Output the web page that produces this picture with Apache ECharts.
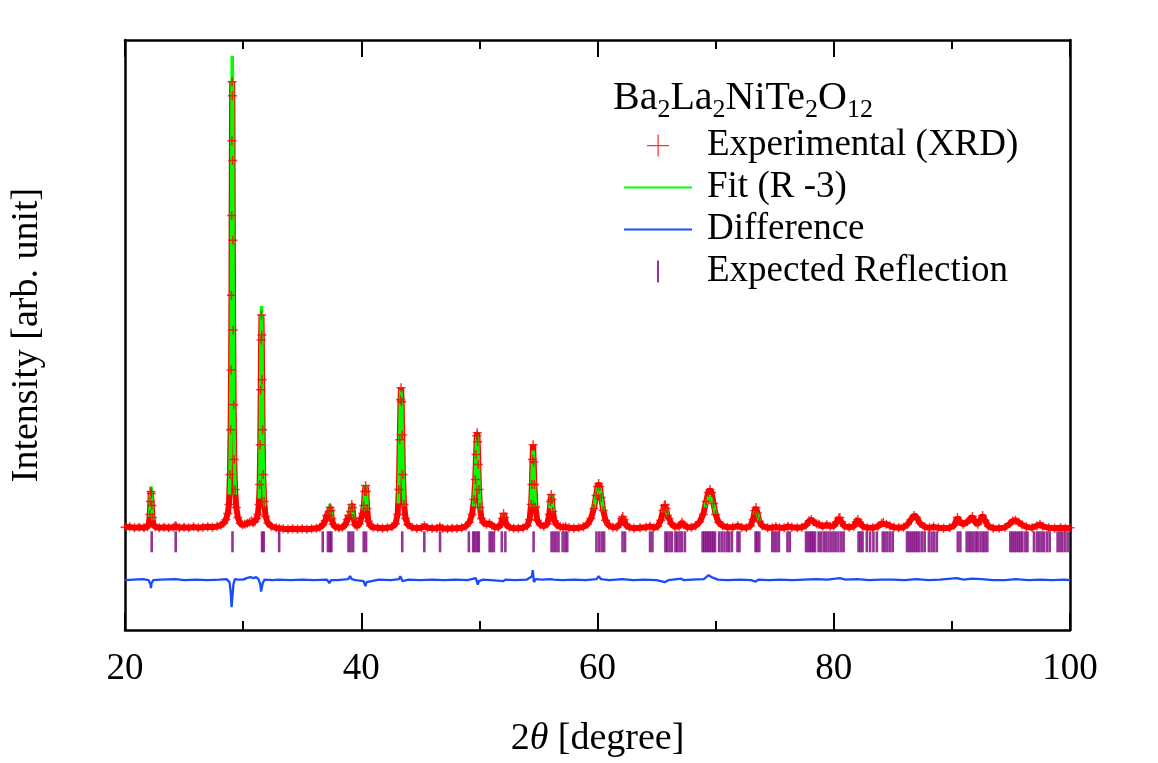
<!DOCTYPE html>
<html>
<head>
<meta charset="utf-8">
<script src="https://cdn.jsdelivr.net/npm/echarts@6/dist/echarts.min.js"></script>
<style>
  html, body { margin: 0; padding: 0; background: #fff; }
  #chart { width: 1158px; height: 763px; }
</style>
</head>
<body>
<div id="chart"></div>
<script>
// XRD Rietveld plot — Ba2La2NiTe2O12
// intensity is in arbitrary units (background = 0)

const xRange = [20, 100];

// observed pattern [2theta, intensity]
const observed = [
  [20.0,40],[20.4,50],[20.8,30],[21.2,40],[21.6,30],[21.9,50],[22.02,100],[22.1,300],[22.15,560],[22.19,760],
  [22.23,720],[22.27,480],[22.32,240],[22.4,100],[22.55,50],[22.9,30],[23.3,40],[23.7,30],[24.1,40],[24.25,70],
  [24.35,60],[24.6,30],[25.0,40],[25.4,30],[25.8,50],[26.2,30],[26.6,40],[27.0,50],[27.4,40],[27.8,60],
  [28.1,80],[28.35,120],[28.55,200],[28.7,320],[28.8,500],[28.88,1100],[28.94,2000],[28.98,3200],[29.01,4700],[29.03,6300],
  [29.05,7800],[29.07,8980],[29.09,8700],[29.11,7400],[29.13,5800],[29.16,4000],[29.2,2500],[29.25,1400],[29.32,800],[29.42,440],
  [29.55,240],[29.75,120],[29.95,90],[30.15,100],[30.35,120],[30.55,140],[30.7,170],[30.85,130],[31.0,150],[31.15,220],
  [31.25,300],[31.33,500],[31.4,900],[31.45,1700],[31.49,2800],[31.52,3800],[31.55,4300],[31.58,3900],[31.61,3000],[31.65,2000],
  [31.7,1100],[31.78,560],[31.9,260],[32.1,120],[32.4,60],[32.8,30],[33.05,20],[33.4,10],[33.8,0],[34.2,10],
  [34.6,0],[35.0,10],[35.4,0],[35.8,10],[36.2,20],[36.5,40],[36.75,90],[36.95,170],[37.08,280],[37.18,260],
  [37.28,360],[37.36,440],[37.43,380],[37.5,220],[37.62,100],[37.8,50],[38.1,30],[38.4,40],[38.65,90],[38.82,200],
  [38.92,280],[39.0,230],[39.1,360],[39.2,500],[39.26,440],[39.35,220],[39.48,90],[39.65,60],[39.85,110],[40.0,230],
  [40.12,320],[40.22,480],[40.3,760],[40.37,880],[40.43,760],[40.5,420],[40.6,160],[40.78,70],[41.0,40],[41.4,30],
  [41.8,20],[42.2,30],[42.6,50],[42.9,110],[43.08,300],[43.18,800],[43.26,1800],[43.32,2600],[43.37,2840],[43.42,2560],
  [43.47,1900],[43.53,1100],[43.62,500],[43.75,220],[43.95,90],[44.3,40],[44.7,20],[45.1,30],[45.34,70],[45.6,30],
  [46.0,20],[46.4,20],[46.65,50],[46.9,20],[47.3,10],[47.7,20],[48.1,20],[48.5,30],[48.85,60],[49.15,140],
  [49.38,300],[49.55,600],[49.65,1000],[49.72,1500],[49.78,1880],[49.82,1940],[49.86,1760],[49.91,1300],[49.97,800],[50.05,440],
  [50.18,220],[50.35,130],[50.6,100],[50.85,120],[51.05,80],[51.3,40],[51.6,40],[51.82,100],[51.95,220],[52.05,320],
  [52.14,240],[52.28,90],[52.55,40],[52.9,20],[53.3,20],[53.7,30],[54.05,70],[54.25,200],[54.38,500],[54.45,900],
  [54.5,1400],[54.55,1700],[54.6,1350],[54.66,900],[54.75,450],[54.9,180],[55.15,90],[55.45,60],[55.75,110],[55.92,300],
  [56.02,560],[56.08,700],[56.14,600],[56.22,360],[56.35,170],[56.55,90],[56.85,50],[57.1,40],[57.3,50],[57.6,30],
  [58.0,20],[58.4,30],[58.8,50],[59.15,100],[59.45,220],[59.7,420],[59.88,680],[60.0,860],[60.1,920],[60.2,860],
  [60.32,640],[60.48,380],[60.68,180],[60.95,80],[61.3,40],[61.65,40],[61.9,110],[62.05,220],[62.14,260],[62.25,190],
  [62.42,80],[62.7,40],[63.1,20],[63.6,30],[64.1,40],[64.45,60],[64.75,30],[65.1,60],[65.35,180],[65.55,380],
  [65.66,480],[65.73,500],[65.8,420],[65.92,280],[66.05,220],[66.25,110],[66.55,50],[66.9,60],[67.05,100],[67.16,140],
  [67.3,90],[67.6,40],[67.95,40],[68.3,70],[68.65,150],[68.95,300],[69.2,560],[69.38,740],[69.52,800],[69.66,740],
  [69.82,520],[70.0,300],[70.25,140],[70.6,70],[71.0,40],[71.45,40],[71.87,70],[72.2,40],[72.6,30],[72.95,70],
  [73.17,200],[73.32,380],[73.42,440],[73.53,330],[73.7,160],[73.95,70],[74.4,30],[74.8,30],[75.1,50],[75.4,30],
  [75.8,30],[76.13,60],[76.45,40],[76.9,30],[77.3,40],[77.65,80],[77.92,170],[78.1,200],[78.28,150],[78.55,110],
  [78.75,100],[79.05,60],[79.4,90],[79.7,60],[80.0,70],[80.25,150],[80.42,230],[80.52,240],[80.66,150],[80.9,60],
  [81.3,40],[81.7,60],[81.9,150],[82.04,200],[82.18,140],[82.45,60],[82.85,30],[83.3,30],[83.75,60],[84.05,120],
  [84.2,140],[84.45,100],[84.75,70],[85.1,40],[85.5,30],[85.9,40],[86.25,100],[86.55,200],[86.8,280],[87.02,240],
  [87.3,120],[87.7,50],[88.1,30],[88.45,50],[88.85,30],[89.3,20],[89.8,30],[90.2,80],[90.47,240],[90.65,160],
  [90.95,100],[91.3,150],[91.55,200],[91.74,260],[91.95,150],[92.2,100],[92.42,200],[92.6,280],[92.8,180],[93.1,60],
  [93.5,20],[94.0,20],[94.5,40],[94.9,110],[95.15,170],[95.38,180],[95.65,140],[95.95,90],[96.3,50],[96.8,30],
  [97.2,70],[97.46,100],[97.7,60],[98.2,30],[98.7,20],[99.2,30],[99.6,20],[100.0,30]
];

// calculated profile, upper parts of the peaks (lower parts hide under the data)
const fitSegments = [
  [[22.08,240],[22.13,460],[22.17,720],[22.21,860],[22.25,680],[22.3,360],[22.36,180]],
  [[28.84,700],[28.9,1300],[28.95,2300],[28.99,3600],[29.02,5400],[29.04,7200],[29.06,8800],[29.08,9500],
   [29.1,8900],[29.12,7400],[29.14,5700],[29.17,3900],[29.21,2400],[29.27,1300],[29.34,700]],
  [[31.36,620],[31.42,1200],[31.46,2000],[31.5,3300],[31.53,4300],[31.56,4480],[31.59,3900],[31.63,2700],
   [31.68,1600],[31.74,880],[31.82,460]],
  [[37.1,290],[37.18,270],[37.28,380],[37.35,500],[37.43,400],[37.52,200]],
  [[38.85,230],[38.93,280],[39.0,240],[39.1,380],[39.19,520],[39.26,440],[39.36,200]],
  [[40.15,380],[40.23,500],[40.31,780],[40.38,880],[40.44,740],[40.52,380]],
  [[43.14,520],[43.22,1300],[43.29,2300],[43.34,2800],[43.38,2840],[43.43,2500],[43.48,1800],[43.55,1000],[43.63,460]],
  [[49.5,460],[49.6,800],[49.68,1250],[49.75,1720],[49.81,1900],[49.86,1780],[49.92,1280],[49.99,720],[50.08,380]],
  [[51.95,220],[52.05,320],[52.14,240]],
  [[54.36,440],[54.44,860],[54.5,1350],[54.55,1580],[54.6,1380],[54.67,860],[54.76,440]],
  [[55.96,420],[56.03,600],[56.09,700],[56.15,600],[56.24,340]],
  [[59.68,400],[59.86,660],[60.0,840],[60.1,880],[60.2,840],[60.34,620],[60.5,360]],
  [[62.02,200],[62.14,250],[62.26,180]],
  [[65.5,340],[65.62,450],[65.72,480],[65.82,400],[65.95,260]],
  [[69.1,440],[69.3,620],[69.48,680],[69.64,660],[69.82,500],[70.0,300]],
  [[73.25,300],[73.35,380],[73.43,420],[73.55,310],[73.7,160]]
];

// observed - calculated, drawn with its offset
const difference = [
  [20,-1020],[21.5,-1000],[22.0,-1020],[22.15,-1100],[22.2,-1180],[22.25,-1080],[22.4,-1020],[23,-1010],[24.3,-1000],[25,-1020],
  [26,-1010],[27,-1020],[28,-1010],[28.6,-1000],[28.85,-1060],[28.95,-1260],[29.02,-1560],[29.06,-1540],[29.1,-1340],[29.18,-1100],
  [29.3,-1000],[29.6,-1010],[30.0,-1010],[30.3,-980],[30.6,-960],[30.75,-950],[30.9,-980],[31.1,-960],[31.3,-1000],[31.45,-1100],
  [31.52,-1250],[31.58,-1230],[31.66,-1080],[31.8,-1010],[32.5,-1020],[33,-1010],[34,-1020],[35,-1010],[36,-1020],[37.1,-1010],
  [37.3,-1080],[37.45,-1020],[38,-1020],[38.9,-1000],[39.05,-940],[39.2,-1000],[39.5,-1020],[40.2,-1040],[40.35,-1140],[40.45,-1060],
  [40.6,-1020],[41.5,-1010],[42.5,-1020],[43.2,-1000],[43.3,-940],[43.4,-960],[43.5,-1040],[43.6,-1000],[44,-1010],[45,-1020],
  [46,-1010],[47,-1020],[48,-1010],[49,-1020],[49.7,-980],[49.8,-940],[49.87,-1110],[49.95,-1040],[50.3,-1010],[51,-1020],
  [52,-1040],[52.2,-1010],[53,-1020],[54,-1010],[54.45,-940],[54.52,-820],[54.57,-860],[54.62,-1060],[54.75,-1000],[55.3,-1010],
  [56,-1000],[56.1,-970],[56.3,-1010],[57,-1020],[58,-1010],[59,-1020],[59.9,-1000],[60.1,-940],[60.3,-1000],[61,-1020],
  [62.1,-1000],[63,-1020],[64,-1010],[65,-1020],[65.7,-1060],[66,-1020],[67.1,-990],[67.3,-1020],[68,-1010],[69,-1000],
  [69.4,-920],[69.55,-900],[69.75,-970],[70.2,-1010],[71,-1020],[72,-1010],[73,-1020],[73.4,-1050],[73.6,-1010],[74.5,-1020],
  [75.5,-1010],[76.5,-1020],[77.5,-1010],[78.5,-1000],[79.5,-1010],[80.5,-980],[81,-1010],[82,-1000],[83,-1020],[84,-1010],
  [85,-1010],[86,-1020],[87,-1000],[88,-1020],[89,-1010],[90.4,-980],[91,-1010],[91.7,-990],[92.5,-1000],[93.5,-1020],
  [94.5,-1020],[95.4,-1000],[96.5,-1020],[97.5,-1010],[98.5,-1020],[99.5,-1010],[100,-1020]
];

// Bragg reflection positions (2theta)
const reflections = [
  22.26, 24.29, 29.1, 31.6, 31.74, 33.05, 36.74, 37.18, 37.35, 37.47, 38.92, 39.1, 39.31, 40.21, 40.41,
  43.47, 45.34, 46.67, 49.11, 49.48, 49.62, 49.82, 49.95, 50.87, 51.04, 51.23, 51.9, 52.2, 54.59,
  56.11, 56.3, 56.5, 56.7, 57.05, 57.27, 57.44, 59.91, 60.14, 60.36, 60.56, 62.12, 62.33, 64.45, 64.65,
  65.75, 65.9, 66.1, 66.3, 66.6, 66.75, 66.95, 67.15, 67.4, 68.9, 69.05, 69.2, 69.35, 69.5, 69.65, 69.8, 69.95,
  70.3, 70.52, 70.75, 70.98, 71.15, 71.38, 71.85, 72.02, 73.38, 73.52, 73.7, 74.8, 74.98, 75.16, 75.36,
  76.08, 76.28, 77.65, 77.82, 77.98, 78.12, 78.27, 78.42, 78.72, 78.92, 79.15, 79.35, 79.56, 79.78, 79.98,
  80.18, 80.4, 80.64, 80.84, 82.1, 82.27, 82.44, 82.8, 83.08, 83.36, 83.65, 84.15, 84.35, 84.55, 84.78, 85.0,
  86.2, 86.38, 86.55, 86.72, 86.9, 87.07, 87.25, 87.48, 87.7, 88.05, 88.28, 88.5, 88.73, 90.5, 90.72,
  91.25, 91.45, 91.62, 91.82, 92.02, 92.19, 92.42, 92.62, 92.8, 93.0, 94.95, 95.12, 95.29, 95.46, 95.63,
  95.8, 95.97, 96.22, 96.4, 96.95, 97.2, 97.4, 97.6, 97.8, 98.05, 98.28, 98.95, 99.15, 99.35, 99.57, 99.8
];

const SERIF = '"Liberation Serif", "DejaVu Serif", serif';
const TICK_ROW = -250;   // vertical place of the reflection bars
const PLUS = 'path://M3.75,0H5.25V9H3.75ZM0,3.75H9V5.25H0Z';
const PLUS_LEGEND = 'path://M10,0H11.2V21H10ZM0,10H21V11.2H0Z';
const LINE_LEGEND = 'path://M0,0H68V2H0Z';
const BAR_LEGEND = 'path://M0,0H1V11H0Z';

// join the fit pieces with empty points so the line breaks between them
const fitData = [];
fitSegments.forEach((seg, i) => {
  if (i > 0) fitData.push([seg[0][0] - 0.01, '-']);
  seg.forEach(p => fitData.push(p));
});

const chart = echarts.init(document.getElementById('chart'), null, { renderer: 'canvas' });

const frameLine = { show: true, onZero: false, lineStyle: { color: '#000', width: 2.5 } };
const tickStyle = { color: '#000', width: 2 };

chart.setOption({
  animation: false,
  backgroundColor: '#fff',
  grid: { left: 124, right: 88, top: 40, bottom: 131 },
  title: {
    left: 613, top: 73, padding: 0,
    text: '{a|Ba}{s|2}{a|La}{s|2}{a|NiTe}{s|2}{a|O}{s|12}',
    textStyle: {
      fontWeight: 'normal',
      rich: {
        a: { fontFamily: SERIF, fontSize: 40, fontWeight: 'normal', color: '#000', lineHeight: 50 },
        s: { fontFamily: SERIF, fontSize: 26, fontWeight: 'normal', color: '#000', lineHeight: 26, verticalAlign: 'bottom' }
      }
    }
  },
  legend: {
    orient: 'vertical', left: 624, top: 127, padding: 0,
    itemWidth: 68, itemHeight: 22, itemGap: 5,
    selectedMode: false,
    textStyle: { fontFamily: SERIF, fontSize: 37, color: '#000', lineHeight: 37, padding: [0, 0, 0, 10] },
    data: [
      { name: 'Experimental (XRD)', icon: PLUS_LEGEND },
      { name: 'Fit (R -3)', icon: LINE_LEGEND },
      { name: 'Difference', icon: LINE_LEGEND },
      { name: 'Expected Reflection', icon: BAR_LEGEND }
    ]
  },
  xAxis: [{
    type: 'value', min: xRange[0], max: xRange[1], interval: 20, position: 'bottom',
    axisLine: frameLine,
    axisTick: { inside: true, length: 17, lineStyle: tickStyle },
    minorTick: { show: true, splitNumber: 2, length: 9, lineStyle: tickStyle },
    axisLabel: { fontFamily: SERIF, fontSize: 37, color: '#000', margin: 21 },
    splitLine: { show: false },
    name: '2{i|θ} [degree]', nameLocation: 'middle', nameGap: 90,
    nameTextStyle: {
      fontFamily: SERIF, fontSize: 38, color: '#000',
      rich: { i: { fontFamily: SERIF, fontSize: 38, fontStyle: 'italic', color: '#000' } }
    }
  }, {
    type: 'value', min: xRange[0], max: xRange[1], interval: 20, position: 'top',
    axisLine: frameLine,
    axisTick: { inside: true, length: 17, lineStyle: tickStyle },
    minorTick: { show: true, splitNumber: 2, length: 9, lineStyle: tickStyle },
    axisLabel: { show: false },
    splitLine: { show: false }
  }],
  yAxis: [{
    type: 'value', min: -2020, max: 9820, position: 'left',
    axisLine: frameLine, axisTick: { show: false }, axisLabel: { show: false }, splitLine: { show: false },
    name: 'Intensity [arb. unit]', nameLocation: 'middle', nameGap: 79,
    nameTextStyle: { fontFamily: SERIF, fontSize: 38, color: '#000' }
  }, {
    type: 'value', min: -2020, max: 9820, position: 'right',
    axisLine: frameLine, axisTick: { show: false }, axisLabel: { show: false }, splitLine: { show: false }
  }],
  series: [
    {
      // dense red band made by the measured points
      name: 'obs-band', type: 'line', data: observed, symbol: 'none', silent: true, z: 2,
      lineStyle: { color: '#ff0000', width: 6 }
    },
    {
      name: 'Fit (R -3)', type: 'line', data: fitData, symbol: 'none', connectNulls: false, z: 3,
      itemStyle: { color: '#00ff00' },
      lineStyle: { color: '#00ff00', width: 3.5 }
    },
    {
      name: 'Difference', type: 'line', data: difference, symbol: 'none', z: 3,
      itemStyle: { color: '#1a4cff' },
      lineStyle: { color: '#1a4cff', width: 2.3 }
    },
    {
      name: 'Expected Reflection', type: 'scatter', z: 2,
      data: reflections.map(x => [x, TICK_ROW]),
      symbol: 'rect', symbolSize: [2.6, 21],
      itemStyle: { color: '#7d007d' }
    },
    {
      name: 'Experimental (XRD)', type: 'scatter', data: observed, z: 4,
      symbol: PLUS, symbolSize: 9,
      itemStyle: { color: '#ff0000' }
    }
  ]
});
</script>
</body>
</html>
